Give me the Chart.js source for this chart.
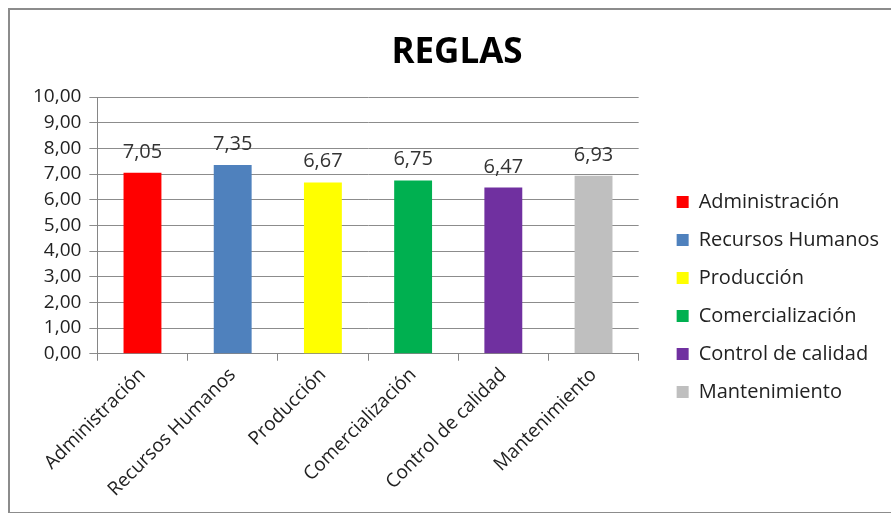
<!DOCTYPE html>
<html>
<head>
<meta charset="utf-8">
<script src="https://cdn.jsdelivr.net/npm/chart.js@4"></script>
<style>
    html, body { margin: 0; padding: 0; background: #fff; overflow: hidden; }
    #wrap { position: absolute; left: 8px; top: 8px; width: 890px; height: 502px;
            border: 2px solid #8c8c8c; }
    #chart { position: absolute; left: 0; top: 0; }
</style>
</head>
<body>
<div id="wrap"><canvas id="chart" width="881" height="502"></canvas></div>
<script>
const labels = ['Administración', 'Recursos Humanos', 'Producción', 'Comercialización', 'Control de calidad', 'Mantenimiento'];
const values = [7.05, 7.35, 6.67, 6.75, 6.47, 6.93];
const colors = ['#FF0000', '#4F81BD', '#FFFF00', '#00B050', '#7030A0', '#BFBFBF'];
const FONT = '"Open Sans", sans-serif';

const fmt = v => v.toFixed(2).replace('.', ',');

// etiquetas de valor encima de cada barra
const valueLabels = {
    id: 'valueLabels',
    afterDatasetsDraw(chart) {
        const ctx = chart.ctx;
        const meta = chart.getDatasetMeta(0);
        ctx.save();
        ctx.font = '20px ' + FONT;
        ctx.fillStyle = '#333';
        ctx.textAlign = 'center';
        ctx.textBaseline = 'alphabetic';
        meta.data.forEach((bar, i) => {
            ctx.fillText(fmt(values[i]), bar.x, bar.y - 15);
        });
        ctx.restore();
    }
};

new Chart(document.getElementById('chart').getContext('2d'), {
    type: 'bar',
    data: {
        labels: labels,
        datasets: [{
            label: 'REGLAS',
            data: values,
            backgroundColor: colors,
            borderWidth: 0,
            categoryPercentage: 1,
            barPercentage: 0.42
        }]
    },
    options: {
        responsive: false,
        animation: false,
        layout: { padding: { top: 0, right: 2, left: 15, bottom: 8 } },
        plugins: {
            title: {
                display: true,
                text: 'REGLAS',
                color: '#000',
                font: { family: FONT, size: 35, weight: 'bold' },
                padding: { top: 22, bottom: 23 }
            },
            legend: {
                position: 'right',
                maxWidth: 260,
                // titulo vacio: solo baja los items hasta su sitio
                title: { display: true, text: ' ', color: '#222', font: { family: FONT, size: 20, lineHeight: 1.2 }, padding: { top: 56, bottom: 0 } },
                labels: {
                    color: '#222',
                    font: { family: FONT, size: 20 },
                    boxWidth: 12,
                    boxHeight: 12,
                    padding: 18,
                    generateLabels: () => labels.map((l, i) => ({
                        text: l,
                        fillStyle: colors[i],
                        strokeStyle: colors[i],
                        fontColor: '#222',
                        lineWidth: 0,
                        index: i
                    }))
                }
            },
            tooltip: { enabled: false }
        },
        scales: {
            x: {
                grid: { drawOnChartArea: false, color: '#868686', tickLength: 7 },
                border: { color: '#868686' },
                ticks: { color: '#222', font: { family: FONT, size: 19 }, maxRotation: 45, minRotation: 45 }
            },
            y: {
                min: 0,
                max: 10,
                ticks: { stepSize: 1, autoSkip: false, color: '#222', font: { family: FONT, size: 19 }, callback: v => fmt(v), padding: 8 },
                grid: { color: '#8c8c8c', tickLength: 8 },
                border: { color: '#868686' }
            },
            // eje vacio a la derecha: separa el area del grafico de la leyenda
            gap: {
                position: 'right',
                display: true,
                grid: { display: false },
                border: { display: false },
                ticks: { display: false },
                afterFit: scale => { scale.width = 20; }
            }
        }
    },
    plugins: [valueLabels]
});
</script>
</body>
</html>
